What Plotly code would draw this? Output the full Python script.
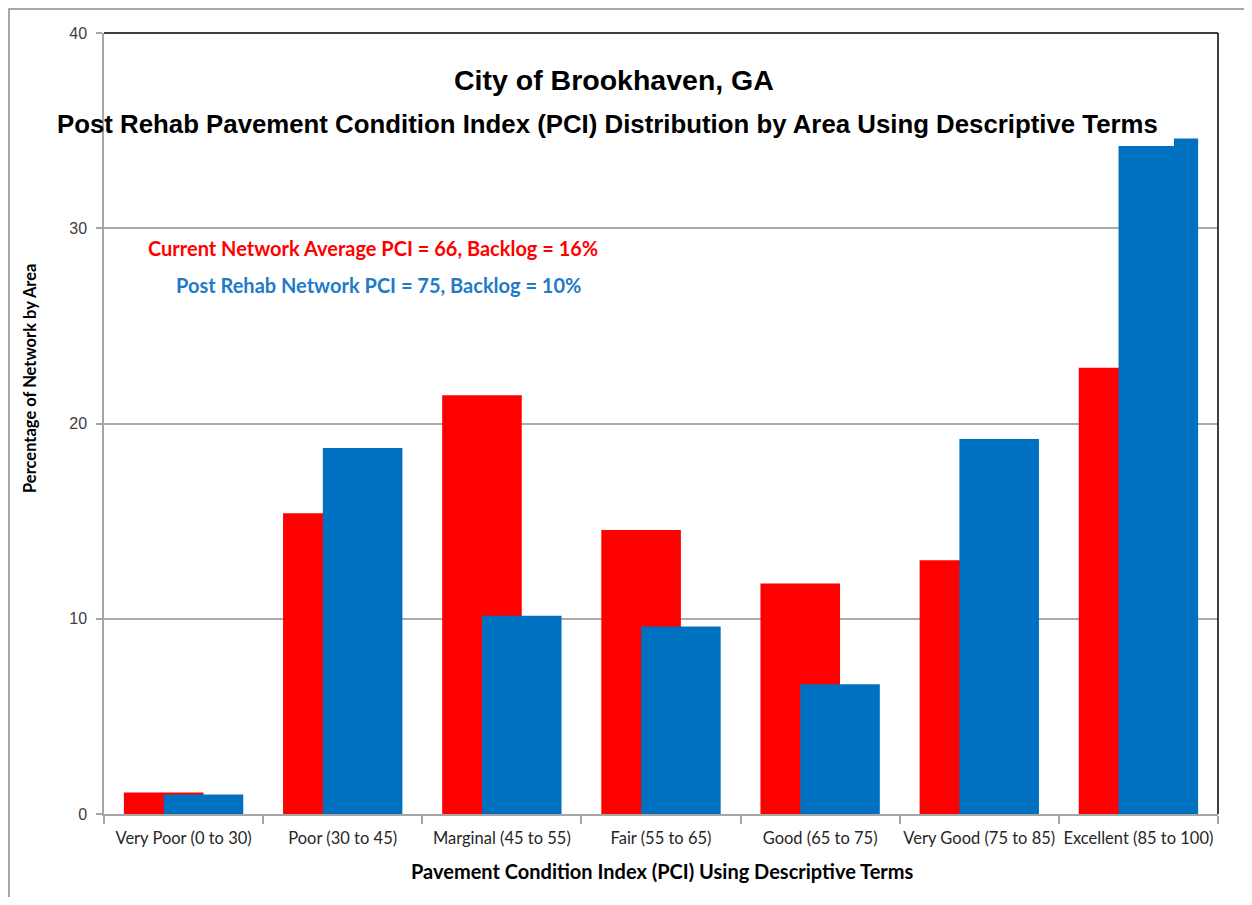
import plotly.graph_objects as go

categories = ["Very Poor (0 to 30)", "Poor (30 to 45)", "Marginal (45 to 55)",
              "Fair (55 to 65)", "Good (65 to 75)", "Very Good (75 to 85)",
              "Excellent (85 to 100)"]
current_pct = [1.1, 15.4, 21.45, 14.55, 11.8, 13.0, 22.85]
post_rehab_pct = [1.0, 18.75, 10.15, 9.6, 6.65, 19.2, 34.6]
y_ticks = [0, 10, 20, 30, 40]

RED = "#FF0000"
BLUE = "#0070C0"
CAL = "Lato, 'Open Sans', sans-serif"
ARI = "'Liberation Sans', Arial, sans-serif"

OFF = 8  # browser body margin
W, H = 1252 - 2 * OFF, 905 - 2 * OFF
PL, PR, PT, PB = 104, 1218, 33, 814  # plot area in screen px


def px(x):
    return (x - PL) / (PR - PL)


def py(y):
    return (PB - y) / (PB - PT)


fig = go.Figure()
fig.add_trace(go.Bar(x=categories, y=current_pct, name="Current",
                     marker=dict(color=RED, line=dict(width=0)),
                     offset=-0.375, width=0.5))
fig.add_trace(go.Bar(x=categories, y=post_rehab_pct, name="Post Rehab",
                     marker=dict(color=BLUE, line=dict(width=0)),
                     offset=-0.125, width=0.5))

fig.update_layout(
    width=W, height=H,
    margin=dict(l=PL - OFF, r=W + OFF - PR, t=PT - OFF, b=H + OFF - PB, pad=0,
                autoexpand=False),
    paper_bgcolor="white", plot_bgcolor="white",
    barmode="overlay", showlegend=False,
    xaxis=dict(range=[-0.5, 6.5], showline=True, linecolor="#A6A6A6", linewidth=1.5,
               ticks="outside", tickson="boundaries", ticklen=8, tickcolor="#A6A6A6",
               tickwidth=1.5, showgrid=False, ticklabelstandoff=8, tickangle=0,
               automargin=False,
               tickfont=dict(family=CAL, size=16.5, color="#262626")),
    yaxis=dict(range=[0, 40], tickvals=y_ticks, showline=True, linecolor="#A6A6A6",
               linewidth=1.5, ticks="outside", ticklen=6, tickcolor="#A6A6A6",
               tickwidth=1.5, showgrid=True, gridcolor="#ABABAB", gridwidth=1.5,
               zeroline=False, ticklabelstandoff=6, automargin=False,
               tickfont=dict(family=ARI, size=16, color="#404040")),
)

# chart-area border
fig.add_shape(type="rect", xref="paper", yref="paper",
              x0=px(9), x1=px(1262), y0=py(912), y1=py(9),
              line=dict(color="#8C8C8C", width=1.5), layer="below")
# plot-area frame (top and right)
fig.add_shape(type="line", xref="paper", yref="paper", x0=0, x1=1, y0=1, y1=1,
              line=dict(color="black", width=1.5))
fig.add_shape(type="line", xref="paper", yref="paper", x0=1, x1=1, y0=0, y1=1,
              line=dict(color="black", width=1.5))
# white fill of the title box (covers the top of the tallest bar)
fig.add_shape(type="rect", xref="paper", yref="paper",
              x0=px(106), x1=px(1174), y0=py(146), y1=py(98),
              fillcolor="white", line=dict(width=0), layer="above")

annotations = [
    dict(text="<b>Post Rehab Pavement Condition Index (PCI) Distribution by Area Using Descriptive Terms</b>",
         x=px(607.5), y=py(124), xanchor="center", yanchor="middle",
         font=dict(family=ARI, size=25.8, color="black")),
    dict(text="<b>City of Brookhaven, GA</b>", x=px(613.5), y=py(80),
         xanchor="center", yanchor="middle",
         font=dict(family=ARI, size=28.5, color="black")),
    dict(text="<b>Current Network Average PCI = 66, Backlog = 16%</b>",
         x=px(372.5), y=py(248), xanchor="center", yanchor="middle",
         font=dict(family=CAL, size=20, color=RED)),
    dict(text="<b>Post Rehab Network PCI = 75, Backlog = 10%</b>",
         x=px(378.5), y=py(285), xanchor="center", yanchor="middle",
         font=dict(family=CAL, size=20, color="#1F7BC8")),
    dict(text="<b>Percentage of Network by Area</b>", x=px(30), y=py(379),
         xanchor="center", yanchor="middle", textangle=-90,
         font=dict(family=CAL, size=16.5, color="black")),
    dict(text="<b>Pavement Condition Index (PCI) Using Descriptive Terms</b>",
         x=px(662), y=py(871), xanchor="center", yanchor="middle",
         font=dict(family=CAL, size=20, color="black")),
]
for a in annotations:
    a.setdefault("xref", "paper")
    a.setdefault("yref", "paper")
    a["showarrow"] = False
    fig.add_annotation(**a)

fig.write_html("out.html")
